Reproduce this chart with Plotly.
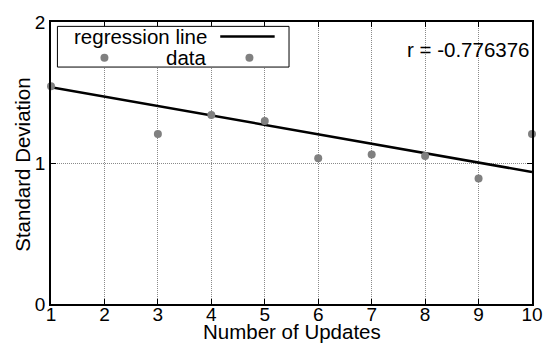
import plotly.graph_objects as go

# data
updates = [1, 3, 4, 5, 6, 7, 8, 9, 10]
std_dev = [1.545, 1.205, 1.34, 1.297, 1.034, 1.06, 1.05, 0.89, 1.205]
reg_x = [1, 10]
reg_y = [1.538, 0.936]
x_ticks = list(range(1, 11))
y_ticks = [0, 1, 2]
r_text = "r = -0.776376"

FONT = "Liberation Sans, Arial, Helvetica, sans-serif"
GRAY = "#808080"

fig = go.Figure()
fig.add_trace(go.Scatter(x=reg_x, y=reg_y, mode="lines",
                         line=dict(color="black", width=2.5),
                         showlegend=False, cliponaxis=False))
fig.add_trace(go.Scatter(x=updates, y=std_dev, mode="markers",
                         marker=dict(color=GRAY, size=8),
                         showlegend=False, cliponaxis=False))

axis_common = dict(showline=True, linecolor="black", linewidth=1.5, mirror="ticks",
                   ticks="inside", ticklen=5, tickcolor="black", tickwidth=1,
                   showgrid=True, gridcolor="#8a8a8a", gridwidth=1, griddash="1px,1px",
                   zeroline=False, tickfont=dict(family=FONT, size=19, color="black"))

fig.update_xaxes(range=[1, 10], tickvals=x_ticks, ticklabelstandoff=-8, **axis_common)
fig.update_yaxes(range=[0, 2], tickvals=y_ticks, **axis_common)

# manual gnuplot-style legend
fig.add_shape(type="rect", xref="paper", yref="paper",
              x0=(57.5 - 51) / 486, x1=(291.5 - 51) / 486,
              y0=(304 - 17.5) / 291, y1=(304 - 59.5) / 291,
              line=dict(color="black", width=1), fillcolor="white", layer="above")
fig.add_shape(type="line", xref="paper", yref="paper",
              x0=(222 - 51) / 486, x1=(277 - 51) / 486,
              y0=(304 - 28) / 291, y1=(304 - 28) / 291,
              line=dict(color="black", width=2.5), layer="above")
for cx in [105, 251.5]:
    fig.add_shape(type="circle", xref="paper", yref="paper",
                  xsizemode="pixel", ysizemode="pixel",
                  xanchor=(cx - 51) / 486, yanchor=(304 - 50) / 291,
                  x0=-4, x1=4, y0=-4, y1=4,
                  fillcolor=GRAY, line=dict(color=GRAY, width=0), layer="above")

ann_font = dict(family=FONT, size=20.5, color="black")
fig.add_annotation(text="regression line", xref="paper", yref="paper",
                   x=(211 - 51) / 486, y=(304 - 28) / 291, xanchor="right", yanchor="middle",
                   showarrow=False, font=ann_font)
fig.add_annotation(text="data", xref="paper", yref="paper",
                   x=(210 - 51) / 486, y=(304 - 50) / 291, xanchor="right", yanchor="middle",
                   showarrow=False, font=ann_font)
fig.add_annotation(text=r_text, xref="paper", yref="paper",
                   x=(537 - 51) / 486, y=(304 - 41) / 291, xanchor="right", yanchor="middle",
                   showarrow=False, font=ann_font)
# axis titles
fig.add_annotation(text="Number of Updates", xref="paper", yref="paper",
                   x=(294 - 51) / 486, y=(304 - 332) / 291, xanchor="center", yanchor="middle",
                   showarrow=False, font=ann_font)
fig.add_annotation(text="Standard Deviation", xref="paper", yref="paper",
                   x=(22 - 51) / 486, y=(304 - 160) / 291, xanchor="center", yanchor="middle",
                   textangle=-90, showarrow=False, font=ann_font)

fig.update_layout(width=555, height=349, margin=dict(l=51, r=18, t=13, b=45),
                  plot_bgcolor="white", paper_bgcolor="white", showlegend=False)

fig.write_html("out.html")
